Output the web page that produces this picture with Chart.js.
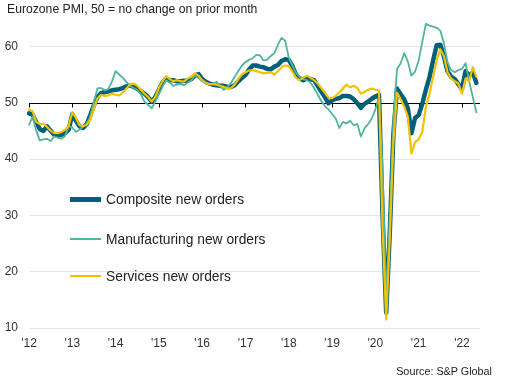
<!DOCTYPE html>
<html>
<head>
<meta charset="utf-8">
<script src="https://cdn.jsdelivr.net/npm/chart.js@4.4.0/dist/chart.umd.min.js"></script>
<style>
  html, body { margin: 0; padding: 0; background: #fff; }
  #wrap { position: relative; width: 507px; height: 389px; font-family: "Liberation Sans", Arial, sans-serif; color: #222; }
  #chart { position: absolute; left: 0; top: 0; }
  #title { position: absolute; left: 7px; top: 2px; font-size: 12.2px; white-space: nowrap; }
  #source { position: absolute; right: 15px; top: 365px; font-size: 10.8px; white-space: nowrap; }
  .leg { position: absolute; left: 70px; height: 16px; display: flex; align-items: center; font-size: 13.8px; white-space: nowrap; }
  .leg .sw { width: 31px; margin-right: 5px; }
</style>
</head>
<body>
<div id="wrap">
  <canvas id="chart" width="507" height="389"></canvas>
  <div id="title">Eurozone PMI, 50 = no change on prior month</div>
  <div class="leg" style="top:191px"><div class="sw" style="height:5px;background:#005f7a"></div>Composite new orders</div>
  <div class="leg" style="top:231px"><div class="sw" style="height:2px;background:#4fb59c"></div>Manufacturing new orders</div>
  <div class="leg" style="top:268px"><div class="sw" style="height:2.5px;background:#f2c200"></div>Services new orders</div>
  <div id="source">Source: S&amp;P Global</div>
</div>
<script>
// monthly, Jan 2012 - May 2022
const years = [2012, 2013, 2014, 2015, 2016, 2017, 2018, 2019, 2020, 2021, 2022];
const yearLabels = ["'12", "'13", "'14", "'15", "'16", "'17", "'18", "'19", "'20", "'21", "'22"];
const monthNames = ['Jan','Feb','Mar','Apr','May','Jun','Jul','Aug','Sep','Oct','Nov','Dec'];
const lastMonth = 6; // axis runs to Jun 2022

const composite = [
  48.1, 47.9, 46.5, 45.3, 45.0, 45.8, 45.0, 44.3, 44.1, 44.3, 44.6, 45.2,
  48.0, 46.8, 45.8, 45.5, 46.2, 47.8, 49.6, 51.0, 51.7, 51.9, 52.0, 52.2,
  52.3, 52.4, 52.6, 52.9, 53.1, 52.8, 52.5, 52.0, 51.6, 51.0, 50.2, 51.0,
  52.3, 53.6, 54.3, 54.0, 54.0, 53.8, 53.8, 53.9, 53.9, 54.2, 54.8, 55.1,
  54.2, 53.7, 53.4, 53.2, 53.1, 53.0, 53.0, 52.8, 52.8, 53.1, 53.8, 54.4,
  54.9, 55.9, 56.6, 56.6, 56.4, 56.3, 56.0, 55.9, 56.4, 56.7, 57.4, 57.7,
  57.6, 56.5, 55.0, 54.3, 54.0, 54.3, 54.2, 54.0, 53.0, 52.0, 51.0, 49.9,
  50.4, 50.7, 50.8, 51.2, 51.2, 51.1, 50.6, 49.9, 49.1, 49.8, 50.2, 50.7,
  51.1, 51.4, 30.0, 12.7, 27.0, 44.5, 52.5, 51.5, 50.6, 49.0, 44.6, 47.3,
  47.8, 49.8, 52.3, 54.5, 57.5, 60.2, 60.3, 58.2, 55.6, 54.6, 54.2, 53.3,
  52.4, 55.6, 54.8, 55.4, 53.5
];
const manufacturing = [
  46.1, 47.5, 45.0, 43.3, 43.5, 43.6, 43.2, 44.0, 43.8, 43.6, 44.1, 45.8,
  45.6, 44.8, 45.2, 45.8, 46.3, 47.6, 50.2, 52.6, 52.6, 52.2, 52.4, 53.8,
  55.6, 55.0, 54.4, 53.7, 53.0, 52.6, 52.3, 51.5, 50.2, 49.6, 49.0, 50.2,
  51.5, 52.8, 54.0, 53.6, 53.0, 53.2, 53.3, 53.1, 53.6, 54.0, 54.8, 54.4,
  53.8, 53.6, 53.2, 53.4, 53.7, 52.9, 52.3, 52.8, 53.5, 54.6, 55.6, 56.6,
  57.2, 57.6, 57.9, 58.5, 58.4, 57.5, 57.6, 58.3, 58.8, 60.3, 61.5, 61.0,
  58.0, 56.6, 55.3, 54.6, 54.2, 54.0, 53.6, 52.6, 51.5, 50.3, 49.4, 48.8,
  48.0, 47.2, 45.5, 46.6, 46.3, 46.8, 46.0, 46.2, 44.0, 45.5, 46.2, 47.2,
  48.8, 51.0, 38.5, 15.0, 30.0, 47.0, 56.0, 57.0, 58.8, 57.3, 54.8, 55.5,
  57.5, 60.8, 64.0, 63.7, 63.5, 63.3, 62.8, 60.5, 57.2, 55.8, 55.4, 55.8,
  56.0, 57.0, 53.8, 51.0, 48.3
];
const services = [
  48.8, 48.5, 46.6, 46.2, 46.3, 45.7, 45.0, 44.6, 44.6, 44.8, 45.2, 45.9,
  48.3, 47.3, 46.0, 45.8, 46.1, 47.0, 49.0, 50.8, 51.4, 51.2, 51.3, 51.6,
  51.4, 51.3, 51.8, 52.5, 53.3, 53.4, 53.0, 52.3, 51.6, 51.0, 50.2, 51.0,
  52.6, 53.8, 54.7, 54.2, 53.8, 54.0, 53.8, 53.8, 54.3, 54.6, 55.2, 54.8,
  54.0, 53.5, 53.3, 53.3, 53.2, 53.0, 52.8, 52.5, 52.6, 53.2, 54.2, 55.0,
  55.4, 55.7, 55.8, 55.6, 55.4, 55.2, 55.3, 55.4, 55.0, 55.6, 56.3, 56.6,
  56.5, 55.5, 54.4, 54.0, 54.4, 54.8, 54.4, 54.0, 53.4, 52.6, 51.8, 50.9,
  50.8, 51.2, 51.8, 52.5, 53.2, 52.7, 53.0, 52.6, 51.6, 51.9, 52.3, 52.5,
  52.3, 52.2, 27.5, 11.5, 26.0, 43.0, 51.8, 50.6, 49.3, 47.5, 41.0, 43.0,
  43.5, 44.8, 49.3, 51.6, 54.6, 57.5, 59.5, 58.3, 55.4, 54.3, 53.8, 53.4,
  51.6, 54.3, 53.8, 56.3, 54.6
];
const yTicks = [10, 20, 30, 40, 50, 60];

// month categories
let months = [];
years.forEach(function(y) {
  monthNames.forEach(function(m, k) {
    if (y < 2022 || k < lastMonth) months.push(m + ' ' + y);
  });
});

// black 50 line with year tick marks
const fiftyLine = {
  id: 'fiftyLine',
  beforeDatasetsDraw(chart) {
    const ctx = chart.ctx;
    const area = chart.chartArea;
    const y = Math.round(chart.scales.y.getPixelForValue(50)) + 0.5;
    ctx.save();
    ctx.strokeStyle = '#000';
    ctx.lineWidth = 1;
    ctx.beginPath();
    ctx.moveTo(area.left, y);
    ctx.lineTo(area.right, y);
    for (let i = 0; i < months.length; i += 12) {
      const x = Math.round(chart.scales.x.getPixelForValue(i)) + 0.5;
      ctx.moveTo(x, y);
      ctx.lineTo(x, y + 4);
    }
    ctx.stroke();
    ctx.restore();
  }
};

const ctxChart = document.getElementById('chart').getContext('2d');
const chart = new Chart(ctxChart, {
  type: 'line',
  data: {
    labels: months,
    datasets: [
      { label: 'Services new orders', data: services, borderColor: '#f2c200', borderWidth: 2.2, order: 1 },
      { label: 'Manufacturing new orders', data: manufacturing, borderColor: '#4fb59c', borderWidth: 1.8, order: 2 },
      { label: 'Composite new orders', data: composite, borderColor: '#005f7a', borderWidth: 4.5, order: 3 }
    ]
  },
  options: {
    responsive: false,
    animation: false,
    devicePixelRatio: 1,
    elements: {
      point: { radius: 0 },
      line: { tension: 0, borderJoinStyle: 'round', borderCapStyle: 'round' }
    },
    layout: { padding: { top: 13, right: 27, bottom: 31, left: 0 } },
    plugins: {
      legend: { display: false },
      tooltip: { enabled: false }
    },
    scales: {
      x: {
        type: 'category',
        grid: { display: false, drawTicks: false },
        border: { display: false },
        ticks: {
          autoSkip: false,
          maxRotation: 0,
          minRotation: 0,
          padding: 8,
          color: '#333',
          font: { family: '"Liberation Sans", Arial, sans-serif', size: 12 },
          callback: function(val, idx) {
            return idx % 12 === 0 ? yearLabels[idx / 12] : null;
          }
        },
        afterFit: function(s) { s.height = 30; }
      },
      y: {
        min: 10,
        max: 65,
        grid: {
          drawTicks: false,
          color: function(c) { return c.tick && c.tick.value === 50 ? 'rgba(0,0,0,0)' : '#e6e6e6'; }
        },
        border: { display: false },
        ticks: {
          padding: 11,
          color: '#333',
          font: { family: '"Liberation Sans", Arial, sans-serif', size: 12 }
        },
        afterBuildTicks: function(s) { s.ticks = yTicks.map(function(v) { return { value: v }; }); },
        afterFit: function(s) { s.width = 29; }
      }
    }
  },
  plugins: [fiftyLine]
});
</script>
</body>
</html>
